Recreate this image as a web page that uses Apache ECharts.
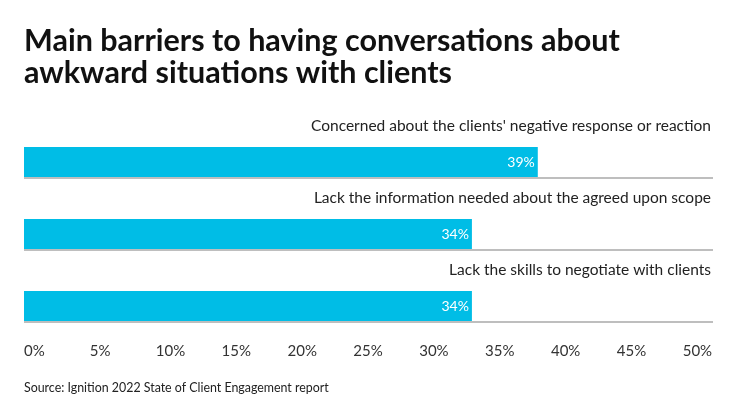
<!DOCTYPE html>
<html>
<head>
<meta charset="utf-8">
<script src="https://cdn.jsdelivr.net/npm/echarts@6/dist/echarts.min.js"></script>
<style>
html,body{margin:0;padding:0;background:#fff;}
#chart{width:740px;height:416px;}
</style>
</head>
<body>
<div id="chart"></div>
<script>
var titleText = 'Main barriers to having conversations about\nawkward situations with clients';
var sourceText = 'Source: Ignition 2022 State of Client Engagement report';
var categories = [
  "Concerned about the clients' negative response or reaction",
  'Lack the information needed about the agreed upon scope',
  'Lack the skills to negotiate with clients'
];
var values = [39, 34, 34];
var tickStep = 5;
var tickMax = 50;

var chart = echarts.init(document.getElementById('chart'), null, {renderer: 'canvas'});
chart.setOption({
  animation: false,
  backgroundColor: '#ffffff',
  textStyle: {fontFamily: 'Lato'},
  title: [{
    text: titleText,
    left: 24,
    top: 25,
    padding: 0,
    textStyle: {fontFamily: 'Lato', fontWeight: 'bold', fontSize: 30.5, lineHeight: 32, color: '#111111'}
  }, {
    text: sourceText,
    left: 24,
    top: 382,
    padding: 0,
    textStyle: {fontFamily: 'Lato', fontWeight: 'normal', fontSize: 12.4, color: '#222222'}
  }],
  grid: {left: 24, right: 27, top: 106, bottom: 94},
  xAxis: {
    type: 'value',
    min: 0,
    max: 52.3,
    interval: tickStep,
    axisLine: {show: false},
    axisTick: {show: false},
    splitLine: {show: false},
    axisLabel: {
      align: 'left',
      margin: 22,
      fontSize: 15,
      color: '#333333',
      fontFamily: 'Lato',
      formatter: function (v) {
        return (v % tickStep === 0 && v <= tickMax) ? v + '%' : '';
      }
    }
  },
  yAxis: {
    type: 'category',
    data: categories,
    inverse: true,
    position: 'right',
    axisLine: {show: false},
    axisTick: {show: false},
    splitLine: {
      show: true,
      lineStyle: {color: ['rgba(0,0,0,0)', '#a8a8a8', '#a8a8a8', '#a8a8a8'], width: 1.5}
    },
    axisLabel: {
      inside: true,
      margin: 2,
      fontSize: 15.5,
      color: '#222222',
      fontFamily: 'Lato',
      verticalAlign: 'bottom',
      lineHeight: 32
    }
  },
  series: [{
    type: 'pictorialBar',
    data: values,
    symbol: 'rect',
    symbolSize: ['100%', 30],
    symbolOffset: [0, 20],
    symbolPosition: 'start',
    itemStyle: {color: '#00bde6'},
    label: {
      show: true,
      position: 'insideRight',
      distance: 3,
      offset: [0, 20],
      color: '#ffffff',
      fontSize: 14,
      fontFamily: 'Lato',
      formatter: function (p) { return p.value + '%'; }
    }
  }]
});
</script>
</body>
</html>
